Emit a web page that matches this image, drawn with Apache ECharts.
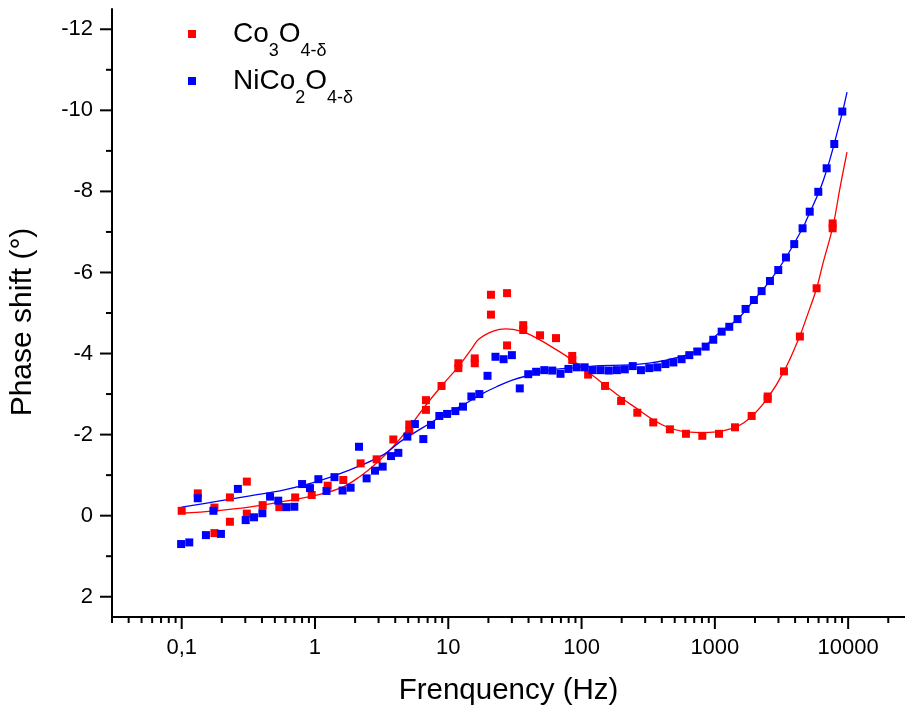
<!DOCTYPE html>
<html>
<head>
<meta charset="utf-8">
<script src="https://cdn.jsdelivr.net/npm/echarts@6/dist/echarts.min.js"></script>
<style>
  html, body { margin: 0; padding: 0; background: #fff; }
  #chart { width: 905px; height: 717px; }
</style>
</head>
<body>
<div id="chart"></div>
<script>
// measured points (frequency in Hz, phase shift in degrees)
const coFreq = [0.1, 0.132, 0.176, 0.176, 0.23, 0.23, 0.308, 0.308, 0.405, 0.54, 0.71, 0.945, 1.245, 1.63,
  2.2, 2.9, 3.87, 5.1, 5.1, 6.8, 6.8, 8.9, 11.9, 11.9, 15.8, 15.8, 20.9, 20.9, 27.6, 27.6, 36.5, 36.5,
  48.8, 64.3, 85.1, 85.1, 112, 150, 198, 262, 345, 460, 607, 805, 1074, 1416, 1888, 2490, 2490, 3300,
  4345, 5800, 7650, 7650]
const coPhase = [-0.12, -0.55, -0.2, 0.43, -0.45, 0.15, -0.84, -0.05, -0.26, -0.21, -0.45, -0.51, -0.74, -0.88,
  -1.29, -1.39, -1.88, -2.25, -2.1, -2.61, -2.85, -3.2, -3.76, -3.64, -3.88, -3.76, -5.45, -4.96, -5.49, -4.2, -4.7, -4.58,
  -4.45, -4.38, -3.94, -3.84, -3.48, -3.2, -2.83, -2.54, -2.3, -2.13, -2.02, -1.97, -2.02, -2.18, -2.46, -2.88, -2.94, -3.56,
  -4.42, -5.61, -7.21, -7.09]

const niFreq = [0.099, 0.114, 0.132, 0.152, 0.173, 0.197, 0.264, 0.302, 0.349, 0.403, 0.46, 0.53, 0.61, 0.7,
  0.8, 0.917, 1.06, 1.22, 1.4, 1.61, 1.85, 2.14, 2.44, 2.82, 3.22, 3.72, 4.22, 4.93, 5.62, 6.5, 7.42, 8.57,
  9.8, 11.3, 12.9, 14.9, 17.1, 19.7, 22.6, 26, 30, 34.4, 39.8, 45.6, 52.5, 60.3, 69.5, 79.7, 91.9, 105.5,
  121, 139, 160, 184, 211, 242, 279, 322, 370, 425, 488, 563, 643, 738, 853, 973, 1125, 1283, 1480, 1700,
  1963, 2243, 2590, 2990, 3415, 3940, 4550, 5150, 5970, 6900, 7870, 9040]
const niPhase = [0.7, 0.66, -0.43, 0.48, -0.12, 0.45, -0.66, 0.11, 0.04, -0.06, -0.47, -0.37, -0.21, -0.22,
  -0.78, -0.68, -0.9, -0.61, -0.95, -0.62, -0.69, -1.7, -0.92, -1.11, -1.21, -1.47, -1.55, -1.95, -2.26, -1.89, -2.24, -2.46,
  -2.51, -2.58, -2.69, -2.94, -3.0, -3.45, -3.92, -3.86, -3.96, -3.14, -3.49, -3.55, -3.59, -3.58, -3.5, -3.62, -3.66, -3.66,
  -3.59, -3.59, -3.58, -3.59, -3.61, -3.69, -3.59, -3.64, -3.66, -3.74, -3.78, -3.86, -3.96, -4.05, -4.17, -4.34, -4.54, -4.66, -4.85, -5.1,
  -5.32, -5.54, -5.79, -6.06, -6.37, -6.7, -7.09, -7.5, -7.99, -8.57, -9.17, -9.97]

// fitted curves
const coFitFreq = [0.1, 0.18, 0.32, 0.58, 1, 1.6, 2.2, 2.9, 3.9, 5.1, 6.8, 8.9, 12, 15, 17, 22, 27, 35, 46, 65,
  85, 120, 170, 240, 430, 770, 1370, 1900, 2500, 3300, 4300, 4900, 5800, 6500, 7700, 8700, 9800]
const coFitPhase = [-0.06, -0.12, -0.21, -0.35, -0.5, -0.7, -0.98, -1.3, -1.72, -2.18, -2.73, -3.2, -3.69, -4.12, -4.36, -4.56, -4.61, -4.55, -4.38, -4.09,
  -3.84, -3.47, -3.08, -2.72, -2.2, -2.05, -2.16, -2.46, -2.91, -3.56, -4.4, -4.91, -5.61, -6.25, -7.15, -8.1, -8.97]

const niFitFreq = [0.1, 0.183, 0.325, 0.578, 1.03, 1.83, 3.25, 4.34, 5.47, 7.3, 9.7, 12.9, 17.3, 23, 30.6, 41, 54.6, 97, 137, 231,
  433, 772, 1030, 1483, 1963, 2590, 3415, 4550, 4875, 6530, 8750, 9810]
const niFitPhase = [-0.21, -0.35, -0.49, -0.63, -0.84, -1.13, -1.5, -1.82, -2.03, -2.28, -2.53, -2.73, -2.98, -3.18, -3.35, -3.47, -3.58, -3.66, -3.7, -3.72,
  -3.84, -4.09, -4.46, -4.85, -5.32, -5.79, -6.37, -7.09, -7.3, -8.28, -9.76, -10.45]

// axes
const xMin = 0.03, xMax = 26700
const yMin = -12.5, yMax = 2.5
const xMajor = [0.1, 1, 10, 100, 1000, 10000]
const yMajor = [-12, -10, -8, -6, -4, -2, 0, 2]
const yMinor = [-11, -9, -7, -5, -3, -1, 1]
const xMinor = []
;[0.01, 0.1, 1, 10, 100, 1000, 10000].forEach(d => {
  for (let k = 2; k <= 9; k++) {
    const v = +(k * d).toPrecision(3)
    if (v >= xMin && v <= xMax) xMinor.push(v)
  }
})

const FONT = 'Liberation Sans, Arial, sans-serif'
const RED = '#ff0000', BLUE = '#0000ff'
const CO = 'Co3O4-δ', NI = 'NiCo2O4-δ'

const zip = (a, b) => a.map((v, i) => [v, b[i]])

function tickSeries(values, onX, len) {
  return {
    type: 'custom', silent: true, clip: false, z: 5,
    data: values.map(v => onX ? [v, yMax] : [xMin, v]),
    renderItem(params, api) {
      const p = api.coord([api.value(0), api.value(1)])
      const shape = onX
        ? { x1: p[0], y1: p[1], x2: p[0], y2: p[1] + len }
        : { x1: p[0], y1: p[1], x2: p[0] - len, y2: p[1] }
      return { type: 'line', shape, style: { stroke: '#000', lineWidth: 2 } }
    }
  }
}

const legendRich = {
  a: { fontSize: 28, lineHeight: 30, padding: [11, 0, 11, 32], verticalAlign: 'top', fontFamily: FONT, color: '#000' },
  m: { fontSize: 28, lineHeight: 30, padding: [11, 0, 11, 0], verticalAlign: 'top', fontFamily: FONT, color: '#000' },
  s: { fontSize: 18, lineHeight: 20, padding: [33, 0, 0, 0], verticalAlign: 'top', fontFamily: FONT, color: '#000' }
}
const legendText = {
  [CO]: '{a|Co}{s|3}{m|O}{s|4-δ}',
  [NI]: '{a|NiCo}{s|2}{m|O}{s|4-δ}'
}
function legendAt(name, top) {
  return {
    data: [{ name, icon: 'rect' }], left: 188, top, padding: 0,
    itemWidth: 8, itemHeight: 8, selectedMode: false,
    formatter: n => legendText[n],
    textStyle: { rich: legendRich, padding: [0, 0, 20, 0] }
  }
}

const chart = echarts.init(document.getElementById('chart'))
chart.setOption({
  animation: false,
  textStyle: { fontFamily: FONT },
  grid: { left: 112, right: 0, top: 9, bottom: 100, outerBoundsMode: 'none' },
  legend: [legendAt(CO, 9), legendAt(NI, 56)],
  xAxis: {
    type: 'log', logBase: 10, min: xMin, max: xMax,
    name: 'Frenquency (Hz)', nameLocation: 'middle', nameGap: 59,
    nameTextStyle: { fontSize: 29.5, color: '#000', fontFamily: FONT },
    axisLine: { onZero: false, lineStyle: { color: '#000', width: 2 } },
    axisTick: { show: false },
    splitLine: { show: false },
    axisLabel: {
      margin: 20, fontSize: 22, color: '#000', fontFamily: FONT,
      showMinLabel: false, showMaxLabel: false,
      formatter: v => xMajor.indexOf(+v) >= 0 ? String(v).replace('.', ',') : ''
    }
  },
  yAxis: {
    type: 'value', inverse: true, min: yMin, max: yMax,
    name: 'Phase shift (°)', nameLocation: 'middle', nameGap: 74, nameRotate: 90,
    nameTextStyle: { fontSize: 30, color: '#000', fontFamily: FONT, padding: [0, 18, 0, 0] },
    axisLine: { show: true, onZero: false, lineStyle: { color: '#000', width: 2 } },
    axisTick: { show: false },
    splitLine: { show: false },
    axisLabel: { customValues: yMajor, margin: 19, fontSize: 22, color: '#000', fontFamily: FONT }
  },
  series: [
    { name: 'Co fit', type: 'line', data: zip(coFitFreq, coFitPhase), showSymbol: false, smooth: 0.4,
      lineStyle: { color: RED, width: 1.3 }, itemStyle: { color: RED }, z: 2, silent: true },
    { name: 'Ni fit', type: 'line', data: zip(niFitFreq, niFitPhase), showSymbol: false, smooth: 0.4,
      lineStyle: { color: BLUE, width: 1.3 }, itemStyle: { color: BLUE }, z: 2, silent: true },
    { name: CO, type: 'scatter', data: zip(coFreq, coPhase), symbol: 'rect', symbolSize: 8,
      itemStyle: { color: RED, opacity: 1 }, z: 3 },
    { name: NI, type: 'scatter', data: zip(niFreq, niPhase), symbol: 'rect', symbolSize: 8,
      itemStyle: { color: BLUE, opacity: 1 }, z: 4 },
    tickSeries(xMajor, true, 12),
    tickSeries(xMinor, true, 6),
    tickSeries(yMajor, false, 12),
    tickSeries(yMinor, false, 6)
  ]
})
</script>
</body>
</html>
